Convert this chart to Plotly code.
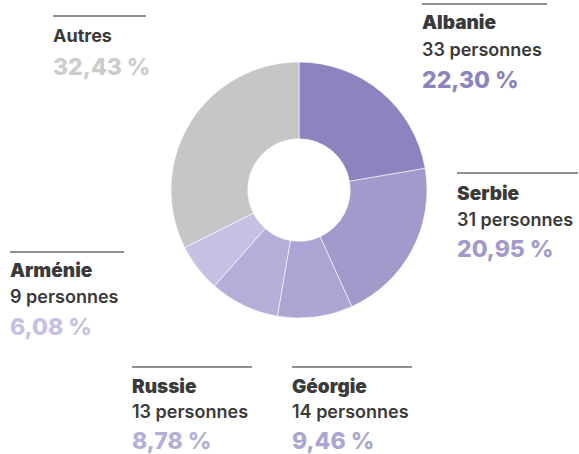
import plotly.graph_objects as go

W, H = 579, 454

categories = ["Albanie", "Serbie", "Géorgie", "Russie", "Arménie", "Autres"]
counts = [33, 31, 14, 13, 9, 48]
count_labels = ["33 personnes", "31 personnes", "14 personnes", "13 personnes", "9 personnes", None]
pct_labels = ["22,30 %", "20,95 %", "9,46 %", "8,78 %", "6,08 %", "32,43 %"]
colors = ["#8b84be", "#a09bcb", "#aba5d3", "#b3afd9", "#c4c1e2", "#c6c6c6"]
pct_colors = ["#8b84be", "#a09bcb", "#aba5d3", "#b3afd9", "#c4c1e2", "#cccccc"]

# label block layout (pixels): left x, rule y, rule right x, title y, count y, pct y
blocks = {
    "Albanie": dict(x=422, ry=4, rx2=547, ty=22, cy=49, py=80),
    "Serbie": dict(x=457, ry=173, rx2=578, ty=193, cy=219, py=249),
    "Géorgie": dict(x=292, ry=367, rx2=412, ty=386, cy=411, py=441),
    "Russie": dict(x=132, ry=367, rx2=252, ty=386, cy=411, py=441),
    "Arménie": dict(x=10, ry=252, rx2=124, ty=270, cy=296, py=327),
    "Autres": dict(x=53, ry=16, rx2=146, ty=36, cy=None, py=67),
}

cx, cy, r = 299, 190, 128

fig = go.Figure(go.Pie(
    labels=categories,
    values=counts,
    sort=False,
    direction="clockwise",
    rotation=0,
    hole=0.40,
    marker=dict(colors=colors, line=dict(color="#ffffff", width=0.6)),
    textinfo="none",
    hoverinfo="label+value",
    showlegend=False,
    domain=dict(x=[(cx - r) / W, (cx + r) / W], y=[1 - (cy + r) / H, 1 - (cy - r) / H]),
))

def px(x):
    return x / W

def py(y):
    return 1 - y / H

FONT = "Inter"
TX = -2  # compensate annotation inner padding
annotations = []
shapes = []
for i, cat in enumerate(categories):
    b = blocks[cat]
    shapes.append(dict(type="line", xref="paper", yref="paper",
                       x0=px(b["x"]), x1=px(b["rx2"]), y0=py(b["ry"]), y1=py(b["ry"]),
                       line=dict(color="#6a6a6a", width=1.5)))
    if cat == "Autres":
        tfont = dict(family=FONT, size=18, color="#3a3a3a", weight=700)
    else:
        tfont = dict(family=FONT, size=19, color="#3a3a3a", weight=900)
    annotations.append(dict(text=cat, x=px(b["x"] + TX), y=py(b["ty"]), xref="paper", yref="paper",
                            xanchor="left", yanchor="middle", showarrow=False, font=tfont))
    if count_labels[i] and b["cy"] is not None:
        annotations.append(dict(text=count_labels[i], x=px(b["x"] + TX), y=py(b["cy"]), xref="paper", yref="paper",
                                xanchor="left", yanchor="middle", showarrow=False,
                                font=dict(family=FONT, size=18, color="#3a3a3a", weight=600)))
    annotations.append(dict(text=pct_labels[i], x=px(b["x"] + TX), y=py(b["py"]), xref="paper", yref="paper",
                            xanchor="left", yanchor="middle", showarrow=False,
                            font=dict(family=FONT, size=23, color=pct_colors[i], weight=800)))

fig.update_layout(
    width=W, height=H,
    margin=dict(l=0, r=0, t=0, b=0),
    paper_bgcolor="#ffffff",
    plot_bgcolor="#ffffff",
    annotations=annotations,
    shapes=shapes,
)

fig.write_html("out.html", config={"displayModeBar": False},
               post_script="document.body.style.margin='0';document.body.style.overflow='hidden';")
